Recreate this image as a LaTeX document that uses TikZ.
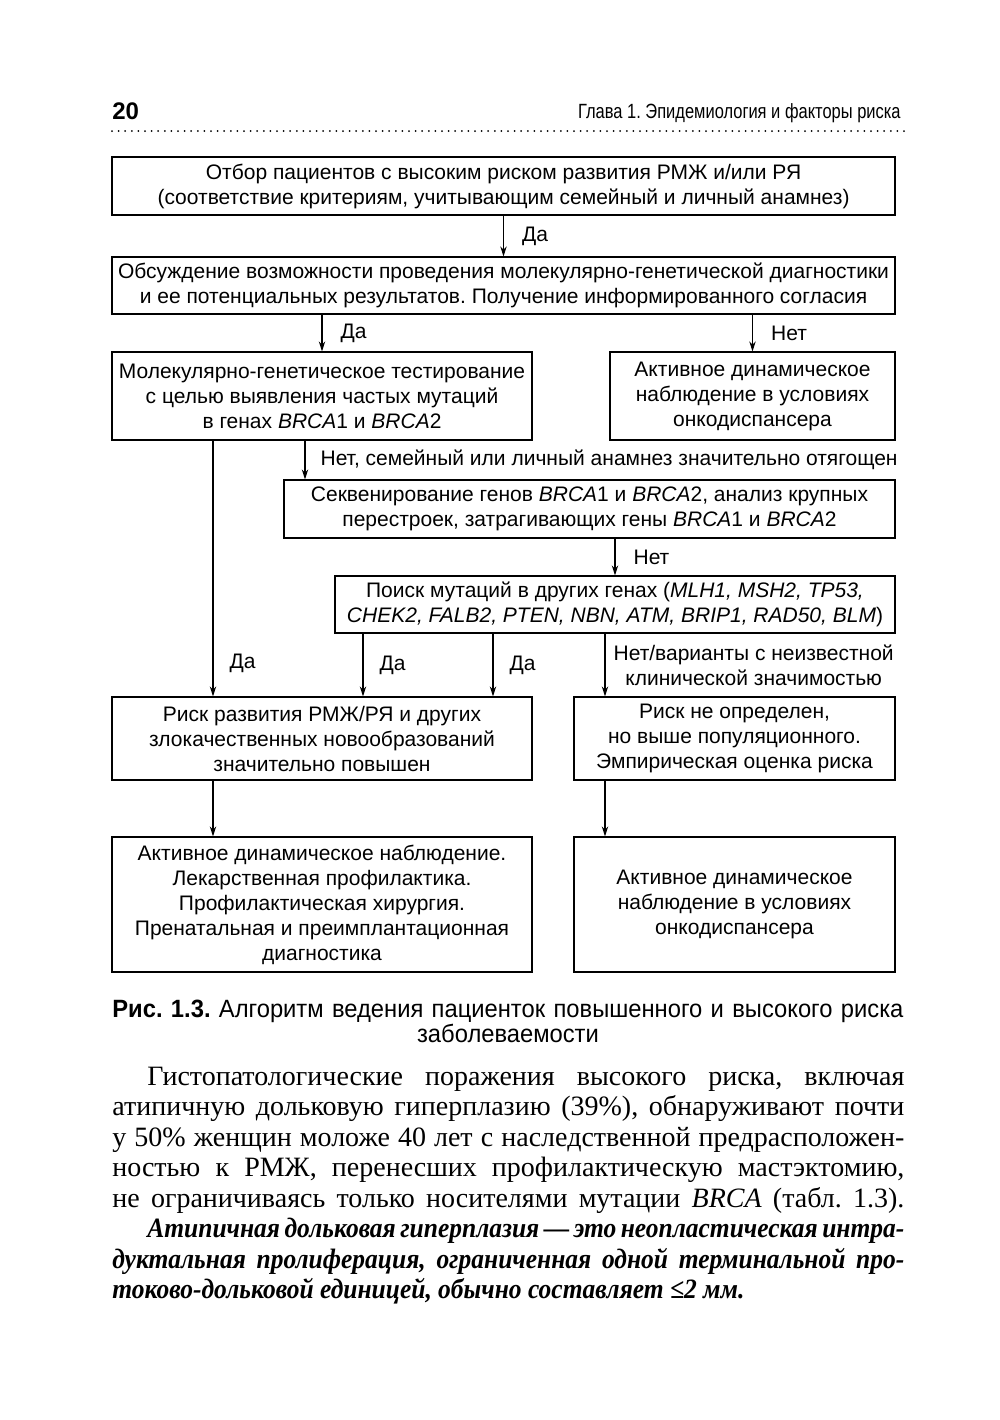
\documentclass[tikz,border=0pt]{standalone}
\usepackage{fontspec}
\setmainfont{Liberation Serif}
\newfontfamily\boxfont{Liberation Sans}
\newfontfamily\narrowfont[FakeStretch=0.8]{Liberation Sans}
\newfontfamily\capfont[FakeStretch=0.95]{Liberation Sans}
\newfontfamily\condserif[FakeStretch=0.91]{Liberation Serif}
\usetikzlibrary{positioning, arrows.meta, calc}
\frenchspacing

\begin{document}
\begin{tikzpicture}[
    x=0.5pt, y=-0.5pt,
    >={Stealth[length=5pt,width=3.2pt]},
    every node/.style={inner sep=0pt},
    box/.style={draw, line width=0.6pt, align=center, font=\boxfont\fontsize{10.5}{12.5}\selectfont},
    lbl/.style={font=\boxfont\fontsize{10.5}{12.5}\selectfont, align=center},
    arr/.style={->, line width=0.6pt},
    bodyline/.style={anchor=base west, font=\fontsize{14}{15}\selectfont},
    boldline/.style={anchor=base west, font=\condserif\fontsize{14}{15}\selectfont\bfseries\itshape}
]
    \fill[white] (0,0) rectangle (1000,1420);
    \useasboundingbox (0,0) rectangle (1000,1420);

    % running head
    \node[anchor=base west, font=\boxfont\bfseries\fontsize{12}{14}\selectfont] (pageno) at (112,119) {20};
    \node[anchor=base east, font=\narrowfont\fontsize{10.3}{12}\selectfont] (runhead) at (901,118) {Глава 1. Эпидемиология и факторы риска};
    \draw[line width=1pt, line cap=round, dash pattern=on 0pt off 3.3pt] (112,131) -- (905,131);

    % columns of the side arrows
    \coordinate (colA) at (213,0);
    \coordinate (colB) at (305,0);
    \coordinate (colC) at (363,0);
    \coordinate (colD) at (493,0);
    \coordinate (colE) at (605,0);

    % boxes
    \node[box, minimum width=391.5pt, minimum height=29pt] (select) at (503.5,186)
        {Отбор пациентов с высоким риском развития РМЖ и/или РЯ\\(соответствие критериям, учитывающим семейный и личный анамнез)};
    \node[box, minimum width=391.5pt, minimum height=28.5pt] (discuss) at (503.5,285.5)
        {Обсуждение возможности проведения молекулярно-генетической диагностики\\и ее потенциальных результатов. Получение информированного согласия};
    \node[box, minimum width=210pt, minimum height=44pt] (test) at (322,396)
        {Молекулярно-генетическое тестирование\\с целью выявления частых мутаций\\в генах \textit{BRCA}1 и \textit{BRCA}2};
    \node[box, minimum width=142.5pt, minimum height=44pt] (watchA) at (752.5,396)
        {Активное динамическое\\наблюдение в условиях\\онкодиспансера};
    \node[box, minimum width=305.5pt, minimum height=29pt] (seq) at (589.5,509)
        {Секвенирование генов \textit{BRCA}1 и \textit{BRCA}2, анализ крупных\\перестроек, затрагивающих гены \textit{BRCA}1 и \textit{BRCA}2};
    \node[box, minimum width=280pt, minimum height=28.5pt] (other) at (615,604.5)
        {Поиск мутаций в других генах (\textit{MLH1, MSH2, TP53,}\\\textit{CHEK2, FALB2, PTEN, NBN, ATM, BRIP1, RAD50, BLM})};
    \node[box, minimum width=210pt, minimum height=41.5pt] (riskHigh) at (322,738.5)
        {Риск развития РМЖ/РЯ и других\\злокачественных новообразований\\значительно повышен};
    \node[box, minimum width=160.5pt, minimum height=41.5pt] (riskUnk) at (734.5,738.5)
        {Риск не определен,\\но выше популяционного.\\Эмпирическая оценка риска};
    \node[box, minimum width=210pt, minimum height=67.5pt] (manHigh) at (322,904.5)
        {Активное динамическое наблюдение.\\Лекарственная профилактика.\\Профилактическая хирургия.\\Пренатальная и преимплантационная\\диагностика};
    \node[box, minimum width=160.5pt, minimum height=67.5pt] (manUnk) at (734.5,904.5)
        {Активное динамическое\\наблюдение в условиях\\онкодиспансера};

    % connectors
    \draw[arr] (select) -- (discuss) node[lbl, midway, right=9pt] (yes1) {Да};
    \draw[arr] (discuss.south -| test) -- (test) node[lbl, midway, right=9pt] (yes2) {Да};
    \draw[arr] (discuss.south -| watchA) -- (watchA) node[lbl, midway, right=9pt] (no1) {Нет};
    \draw[arr] (test.south -| colB) -- (seq.north -| colB)
        node[lbl, midway, right=7.5pt] (no2) {Нет, семейный или личный анамнез значительно отягощен};
    \draw[arr] (seq.south -| other) -- (other) node[lbl, midway, right=9pt] (no3) {Нет};
    \draw[arr] (test.south -| colA) -- (riskHigh.north -| colA) node[lbl, pos=0.87, right=8pt] (yes3) {Да};
    \draw[arr] (other.south -| colC) -- (riskHigh.north -| colC) node[lbl, midway, right=8pt] (yes4) {Да};
    \draw[arr] (other.south -| colD) -- (riskHigh.north -| colD) node[lbl, midway, right=8pt] (yes5) {Да};
    \draw[arr] (other.south -| colE) -- (riskUnk.north -| colE)
        node[lbl, midway, right=4pt] (no4) {Нет/варианты с неизвестной\\клинической значимостью};
    \draw[arr] (riskHigh.south -| colA) -- (manHigh.north -| colA);
    \draw[arr] (riskUnk.south -| colE) -- (manUnk.north -| colE);

    % caption
    \node[anchor=base west, font=\capfont\fontsize{12.5}{12.5}\selectfont] (capA) at (112,1017)
        {\makebox[395.5pt][s]{\textbf{Рис. 1.3.} Алгоритм ведения пациенток повышенного и высокого риска}};
    \node[anchor=base, font=\capfont\fontsize{12.5}{12.5}\selectfont] (capB) at (508,1042) {заболеваемости};

    % body text
    \node[bodyline] (body1) at (112,1085) {\makebox[396pt][s]{\hspace*{17.5pt}Гистопатологические поражения высокого риска, включая}};
    \node[bodyline] (body2) at (112,1115.5) {\makebox[396pt][s]{атипичную дольковую гиперплазию (39\%), обнаруживают почти}};
    \node[bodyline] (body3) at (112,1146) {\makebox[396pt][s]{у 50\% женщин моложе 40 лет с наследственной предрасположен-}};
    \node[bodyline] (body4) at (112,1176.5) {\makebox[396pt][s]{ностью к РМЖ, перенесших профилактическую мастэктомию,}};
    \node[bodyline] (body5) at (112,1207) {\makebox[396pt][s]{не ограничиваясь только носителями мутации \textit{BRCA} (табл. 1.3).}};
    \node[boldline] (body6) at (112,1237.5)
        {\makebox[396pt][s]{\hspace*{17.5pt}Атипичная дольковая гиперплазия — это неопластическая интра-}};
    \node[boldline] (body7) at (112,1268)
        {\makebox[396pt][s]{дуктальная пролиферация, ограниченная одной терминальной про-}};
    \node[boldline] (body8) at (112,1298.5)
        {токово-дольковой единицей, обычно составляет ≤2~мм.};
\end{tikzpicture}
\end{document}
